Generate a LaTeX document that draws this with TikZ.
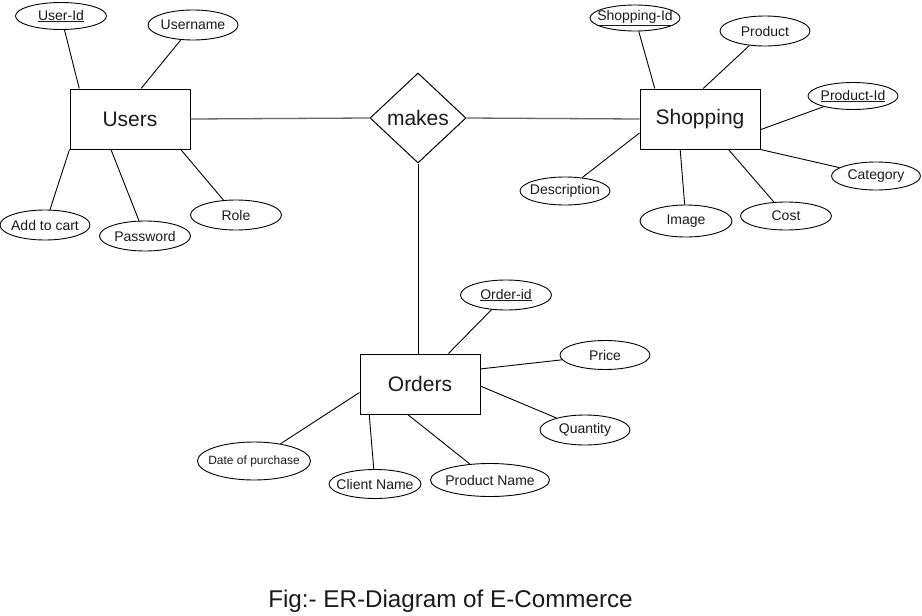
\documentclass[tikz,border=0pt]{standalone}
\usepackage{fontspec}
\setmainfont{Liberation Sans}
\usetikzlibrary{shapes.geometric}
\definecolor{linkgray}{HTML}{666666}
\definecolor{txt}{HTML}{1A1A1A}
\newcommand{\zw}[1]{\makebox[0pt]{#1}}
\begin{document}
\begin{tikzpicture}[x=1pt,y=-1pt,
  every node/.style={text=txt},
  entity/.style={draw, line width=1pt, minimum width=120pt, minimum height=60pt, inner sep=0pt, font=\fontsize{21}{24}\selectfont},
  relbox/.style={draw, diamond, line width=1pt, minimum width=96pt, minimum height=90pt, inner sep=0pt, font=\fontsize{21}{24}\selectfont},
  attr/.style={draw, ellipse, line width=0.9pt, inner sep=0pt, minimum width=90pt, minimum height=29pt, font=\fontsize{14}{16}\selectfont},
  conn/.style={line width=0.9pt},
  hconn/.style={line width=1.3pt, draw=linkgray}]
\useasboundingbox (0,0) rectangle (922,616);
\fill[white] (0,0) rectangle (922,616);

% entities
\node[entity] (users) at (130,119) {Users};
\node[entity] (shop) at (700,119) {Shopping};
\node[entity] (orders) at (420,384) {Orders};
\node[relbox] (makes) at (418,118) {\zw{makes}};

% Users attributes
\node[attr, minimum width=91pt, minimum height=27pt] (uid) at (61,16) {\zw{\underline{User-Id}}};
\node[attr, minimum height=30pt] (uname) at (193,25) {\zw{Username}};
\node[attr, minimum height=30pt] (cart) at (45,225) {\zw{Add to cart}};
\node[attr, minimum width=91pt, minimum height=30pt] (pwd) at (145,236) {\zw{Password}};
\node[attr, minimum width=91pt, minimum height=30pt] (role) at (236,215) {\zw{Role}};

% Shopping attributes
\node[attr, minimum height=26pt] (sid) at (635,18) {\zw{\underline{Shopping-Id}}};
\node[attr, minimum height=30pt] (prod) at (765,31) {\zw{Product}};
\node[attr, minimum height=27pt] (pid) at (853,96) {\zw{\underline{Product-Id}}};
\node[attr, minimum width=89pt, minimum height=28pt] (cat) at (876,176) {\zw{Category}};
\node[attr, minimum width=91pt, minimum height=28pt] (cost) at (786,216) {\zw{Cost}};
\node[attr, minimum width=92pt, minimum height=32pt] (img) at (686,221) {\zw{Image}};
\node[attr, minimum height=28pt] (desc) at (565,191) {\zw{Description}};

% Orders attributes
\node[attr, minimum width=91pt, minimum height=30pt] (oid) at (506,295) {\zw{\underline{Order-id}}};
\node[attr, minimum height=29pt] (price) at (605,355) {\zw{Price}};
\node[attr, minimum height=30pt] (qty) at (585,430) {\zw{Quantity}};
\node[attr, minimum width=113pt, minimum height=38pt, font=\fontsize{12}{14}\selectfont] (date) at (254,461) {\zw{Date of purchase}};
\node[attr, minimum width=92pt, minimum height=29pt] (client) at (375,484) {\zw{Client Name}};
\node[attr, minimum width=119pt, minimum height=33pt] (pname) at (490,480) {\zw{Product Name}};

% relationship connectors
\draw[hconn] (users.east) -- (makes.west);
\draw[hconn] (makes.east) -- (shop.west);
\draw[conn] (makes.south) -- (makes.south |- orders.north);

% Users connectors
\draw[conn] (uid) -- (users.149);
\draw[conn] (uname) -- (users.70);
\draw[conn] (cart) -- (users.south west);
\draw[conn] (pwd) -- (users.238);
\draw[conn] (role) -- (users.329);

% Shopping connectors
\draw[conn] (sid) -- (shop.146);
\draw[conn] (prod) -- (shop.84);
\draw[conn] (pid) -- (shop.350);
\draw[conn] (cat) -- (shop.south east);
\draw[conn] (cost) -- (shop.313);
\draw[conn] (img) -- (shop.237);
\draw[conn] (desc) -- (shop.193);

% Orders connectors
\draw[conn] (oid) -- (orders.47);
\draw[conn] (price) -- (orders.14);
\draw[conn] (qty) -- (orders.358);
\draw[conn] (date) -- (orders.188);
\draw[conn] (client) -- (orders.211);
\draw[conn] (pname) -- (orders.248);

% caption
\node[font=\fontsize{24.2}{28}\selectfont] (cap) at (450.5,601) {Fig:- ER-Diagram of E-Commerce};
\end{tikzpicture}
\end{document}
